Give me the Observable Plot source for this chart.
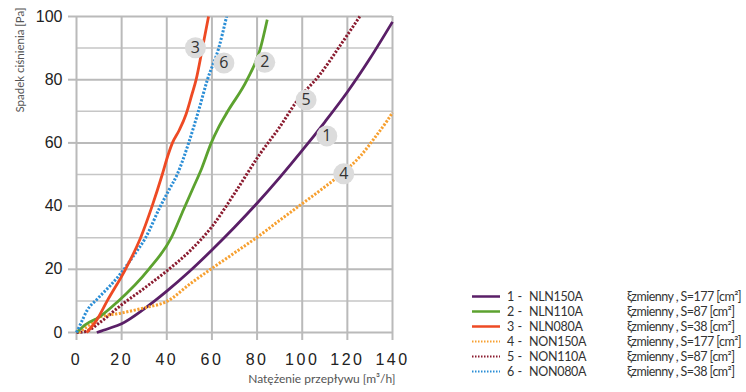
<!DOCTYPE html>
<html><head><meta charset="utf-8">
<script src="https://cdn.jsdelivr.net/npm/d3@7"></script>
<script src="https://cdn.jsdelivr.net/npm/@observablehq/plot@0.6"></script>
<style>
body{margin:0;background:#fff;}
#wrap{position:relative;width:746px;height:392px;overflow:hidden;}
#legend{position:absolute;left:0;top:0;font-family:Lato,"Noto Sans",sans-serif;font-size:12.5px;color:#333;}
.row{position:absolute;height:15px;line-height:15px;white-space:nowrap;}
.row svg{position:absolute;left:0;top:0;}
.num{position:absolute;left:35px;}
.name{position:absolute;left:57px;letter-spacing:-0.3px;}
.desc{position:absolute;left:155px;letter-spacing:-0.55px;}
</style></head><body>
<div id="wrap"><div id="chart"></div><div id="legend"></div></div>
<script>
// ---- data ----
const xTicks = [0, 20, 40, 60, 80, 100, 120, 140];
const yTicks = [0, 20, 40, 60, 80, 100];
const yMinor = [10, 30, 50, 70, 90];

const seriesIds = ["1", "2", "3", "4", "5", "6"];
const seriesNames = ["NLN150A", "NLN110A", "NLN080A", "NON150A", "NON110A", "NON080A"];
const seriesDesc = ["ξzmienny , S=177 [cm²]", "ξzmienny , S=87 [cm²]", "ξzmienny , S=38 [cm²]",
                    "ξzmienny , S=177 [cm²]", "ξzmienny , S=87 [cm²]", "ξzmienny , S=38 [cm²]"];
const seriesColors = ["#5a1f67", "#5ca22f", "#ee4a24", "#f7a030", "#8a1b2f", "#2b8ed6"];
const seriesDotted = [false, false, false, true, true, true];

const s1x = [9, 14, 20, 30, 40, 50, 60, 70, 80, 90, 100, 110, 120, 130, 140];
const s1y = [0, 1.2, 2.8, 7.5, 13.1, 19.3, 26.1, 33.3, 40.9, 49, 57.6, 66.6, 76.1, 86.7, 98.3];
const s2x = [0, 4, 9.9, 18, 32, 42, 47.5, 51.5, 55.5, 59.7, 63, 67, 75.6, 81.5, 84.5];
const s2y = [0, 2.5, 4.8, 9.6, 20, 30, 39, 45.5, 52, 60, 65, 70, 80, 90, 99];
const s3x = [4.5, 9, 13.6, 21.7, 28.4, 33.5, 38, 40.5, 42.5, 45.5, 48.5, 51, 53, 55.8, 58.5];
const s3y = [0, 4, 10, 20, 30, 40, 50, 56, 60, 64, 69, 75, 80, 90, 100];
const s4x = [1, 5, 9.9, 19.5, 30, 40.2, 50.5, 59.4, 70, 80.7, 90, 98.5, 108, 117, 126, 132, 137.6, 140];
const s4y = [0, 2, 4.8, 6.1, 7.8, 9.9, 15.5, 20, 25.2, 30.5, 35.5, 40, 45, 50, 56, 61.5, 67, 69.6];
const s5x = [0, 4, 10.6, 19.5, 30, 40.2, 50.5, 60, 70, 80.8, 90, 98, 107.7, 117, 125.5];
const s5y = [0, 0.3, 3.3, 8.5, 14, 19.6, 26, 33.5, 44, 56, 65, 73.6, 81.5, 91, 100];
const s6x = [0, 2, 4.7, 9.2, 15, 19.5, 25, 30.6, 37.2, 40.9, 44.6, 49.7, 54, 58, 63, 66.5];
const s6y = [0, 3, 7, 10.6, 14.9, 18.6, 24, 30, 40, 45, 50, 60, 70, 80, 90, 100];

const labelX = [110.9, 83.4, 52.7, 118.4, 101.7, 65.3];
const labelY = [62.2, 85.5, 90.1, 50.2, 73.6, 85.3];

const xTitle = "Natężenie przepływu [m³/h]";
const yTitle = "Spadek ciśnienia [Pa]";

// ---- build ----
const xs = [s1x, s2x, s3x, s4x, s5x, s6x];
const ys = [s1y, s2y, s3y, s4y, s5y, s6y];
const curves = xs.map((xa, i) => xa.map((x, j) => ({x, y: ys[i][j], id: seriesIds[i]})));
const labels = seriesIds.map((id, i) => ({id, x: labelX[i], y: labelY[i]}));

const lineMarks = [];
[4, 0, 3, 1, 5, 2].forEach(i => {
  lineMarks.push(Plot.line(curves[i], {
    x: "x", y: "y", curve: "monotone-x",
    stroke: seriesColors[i],
    strokeWidth: seriesDotted[i] ? 3 : 2.8,
    strokeDasharray: seriesDotted[i] ? "2.2,1.6" : null,
    strokeLinecap: "butt"
  }));
});

const chart = Plot.plot({
  width: 746, height: 392,
  marginLeft: 76, marginRight: 354, marginTop: 16, marginBottom: 60,
  x: {domain: [0, 140]},
  y: {domain: [0, 100]},
  style: {background: "#fff", fontFamily: "'Liberation Sans', Arial, sans-serif"},
  marks: [
    Plot.ruleY(yMinor, {stroke: "#c6c6c6", strokeWidth: 1.5}),
    Plot.ruleY(yTicks, {stroke: "#bababa", strokeWidth: 2}),
    Plot.ruleX(xTicks, {stroke: "#bababa", strokeWidth: 2}),
    Plot.axisY({ticks: yTicks, tickSize: 8, tickPadding: 6, stroke: "#bababa", strokeWidth: 2,
      fill: "#222", fontSize: 16, label: null}),
    Plot.axisX({ticks: xTicks, tickSize: 8, tickPadding: 13, stroke: "#bababa", strokeWidth: 2,
      fill: "#222", fontSize: 16, label: null}),
    ...lineMarks,
    Plot.dot(labels, {x: "x", y: "y", r: 10.5, fill: "#dcdcdc", stroke: null}),
    Plot.text(labels, {x: "x", y: "y", text: "id", fontSize: 16, fill: "#333",
      fontFamily: "'Open Sans', sans-serif"}),
    Plot.text([yTitle], {text: d => d, frameAnchor: "top-left", rotate: -90, textAnchor: "end",
      dx: -61, dy: -9, fontSize: 11.5, fill: "#555", fontFamily: "Lato, sans-serif"}),
    Plot.text([xTitle], {text: d => d, frameAnchor: "bottom-right", textAnchor: "end",
      dx: 3, dy: 50, fontSize: 12, fill: "#555", fontFamily: "Lato, sans-serif"})
  ]
});
document.getElementById("chart").appendChild(chart);

// x tick letter spacing
d3.select(chart).selectAll("g[aria-label='x-axis tick label'] text").style("letter-spacing", "2.5px");

// ---- legend ----
const legend = d3.select("#legend");
seriesIds.forEach((id, i) => {
  const row = legend.append("div").attr("class", "row")
    .style("left", "472px").style("top", (288.5 + i * 15) + "px");
  const svg = row.append("svg").attr("width", 30).attr("height", 15);
  svg.append("line").attr("x1", 0).attr("x2", 28).attr("y1", 7.5).attr("y2", 7.5)
    .attr("stroke", seriesColors[i]).attr("stroke-width", seriesDotted[i] ? 2 : 2.5)
    .attr("stroke-dasharray", seriesDotted[i] ? "1.5,1.5" : null);
  row.append("span").attr("class", "num").text(id + " -");
  row.append("span").attr("class", "name").text(seriesNames[i]);
  row.append("span").attr("class", "desc").text(seriesDesc[i]);
});
</script>
</body></html>
